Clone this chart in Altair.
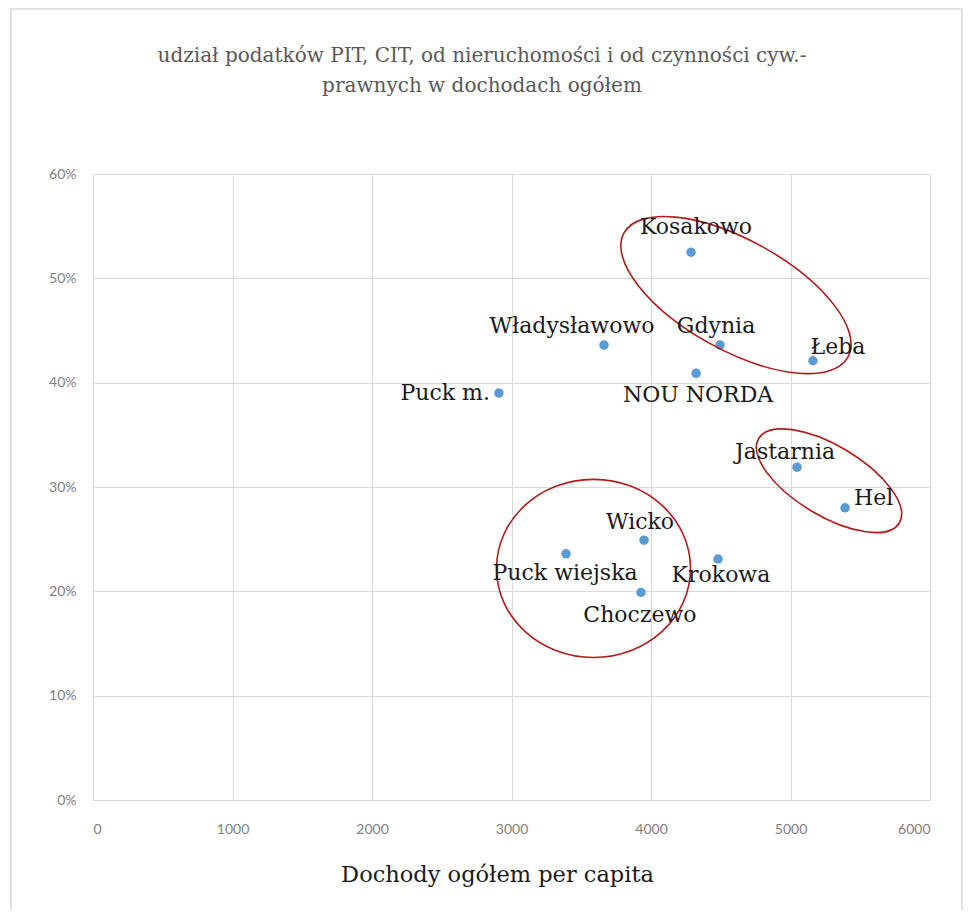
import altair as alt
import pandas as pd

# ---- data ----
names = ["Kosakowo", "Władysławowo", "Gdynia", "Łeba", "NOU NORDA", "Puck m.",
         "Jastarnia", "Hel", "Wicko", "Puck wiejska", "Krokowa", "Choczewo"]
dochody = [4287, 3663, 4495, 5161, 4323, 2910, 5047, 5391, 3950, 3391, 4480, 3928]
udzial = [0.525, 0.436, 0.436, 0.421, 0.409, 0.390, 0.319, 0.280, 0.249, 0.236, 0.231, 0.199]

x_ticks = [0, 1000, 2000, 3000, 4000, 5000, 6000]
y_ticks = [0, 0.1, 0.2, 0.3, 0.4, 0.5, 0.6]

title_lines = ["udział podatków PIT, CIT, od nieruchomości i od czynności cyw.-",
               "prawnych w dochodach ogółem"]
x_title = "Dochody ogółem per capita"

# annotation ellipses (centre in data units)
ell_x = [4609, 5276, 3588]
ell_y = [0.484, 0.306, 0.222]

# ---- styling / placement (not data) ----
W, H = 837, 626
label_style = {  # name: (align, dx, dy)
    "Kosakowo": ("center", 5, -25),
    "Władysławowo": ("center", -32, -19),
    "Gdynia": ("center", -4, -19),
    "Łeba": ("center", 25, -14),
    "NOU NORDA": ("center", 2, 22),
    "Puck m.": ("right", -9, 0),
    "Jastarnia": ("center", -12, -15),
    "Hel": ("left", 9, -10),
    "Wicko": ("center", -4, -18),
    "Puck wiejska": ("center", -1, 19),
    "Krokowa": ("center", 3, 16),
    "Choczewo": ("center", -1, 23),
}
# ellipse shapes: semi-axes a, b (px) and clockwise rotation (deg)
ell_a = [128, 82, 97]
ell_b = [55, 35, 89]
ell_rot = [29, 31, 0]

df = pd.DataFrame({"name": names, "x": dochody, "y": udzial})
one = pd.DataFrame({"k": [0]})


def ell_path(r):
    return f"M -1 0 A 1 {r:.3f} 0 1 1 1 0 A 1 {r:.3f} 0 1 1 -1 0 Z"


ell_df = pd.DataFrame({
    "x": ell_x, "y": ell_y,
    "shape": [ell_path(b / a) for a, b in zip(ell_a, ell_b)],
    "size": [(2 * a) ** 2 for a in ell_a],
    "rot": ell_rot,
})

SERIF = "DejaVu Serif"

xscale = alt.Scale(domain=[0, 6000], nice=False, zero=True)
yscale = alt.Scale(domain=[0, 0.6], nice=False)

xenc = alt.X("x:Q", scale=xscale,
             axis=alt.Axis(values=x_ticks, format="d", grid=True, gridColor="#d9d9d9",
                           domain=False, ticks=False, labelFont="Lato", labelFontSize=14,
                           labelColor="#7f7f7f", labelPadding=22,
                           title=x_title, titleFont=SERIF,
                           titleFontSize=22.5, titleFontWeight="normal", titleColor="#1a1a1a",
                           titlePadding=27, titleX=404))
yenc = alt.Y("y:Q", scale=yscale,
             axis=alt.Axis(values=y_ticks, format=".0%", grid=True, gridColor="#d9d9d9",
                           domain=False, ticks=False, labelFont="Lato", labelFontSize=14,
                           labelColor="#7f7f7f", labelPadding=17, title=None))

frame = alt.Chart(one).mark_rect(fill=None, stroke="#d9d9d9", strokeWidth=1.5).encode(
    x=alt.value(-82), x2=alt.value(869), y=alt.value(-165), y2=alt.value(760)
)

title = alt.Chart(one).mark_text(
    text=title_lines, font=SERIF, fontSize=20, fontWeight="normal", color="#595959",
    align="center", baseline="middle", lineHeight=30
).encode(x=alt.value(389), y=alt.value(-118))

points = alt.Chart(df).mark_circle(size=90, color="#5b9bd5", opacity=1).encode(
    x=xenc, y=yenc
)

ellipses = alt.Chart(ell_df).mark_point(filled=False, stroke="#b01c1c", strokeWidth=1.6,
                                         opacity=1).encode(
    x=alt.X("x:Q", scale=xscale),
    y=alt.Y("y:Q", scale=yscale),
    shape=alt.Shape("shape:N", scale=None),
    size=alt.Size("size:Q", scale=None),
    angle=alt.Angle("rot:Q", scale=None),
)

label_layers = []
for nm, (al, dx, dy) in label_style.items():
    label_layers.append(
        alt.Chart(df).transform_filter(alt.datum.name == nm).mark_text(
            align=al, baseline="middle", dx=dx, dy=dy, font=SERIF, fontSize=22,
            color="#1a1a1a"
        ).encode(x=alt.X("x:Q", scale=xscale), y=alt.Y("y:Q", scale=yscale), text="name:N")
    )

chart = alt.layer(frame, title, points, ellipses, *label_layers).properties(
    width=W, height=H,
    padding={"left": 85, "top": 166, "right": 33, "bottom": 110},
    autosize=alt.AutoSizeParams(type="none"),
).configure_view(stroke=None)

chart.save("out.html", embed_options={"renderer": "svg", "actions": False})
